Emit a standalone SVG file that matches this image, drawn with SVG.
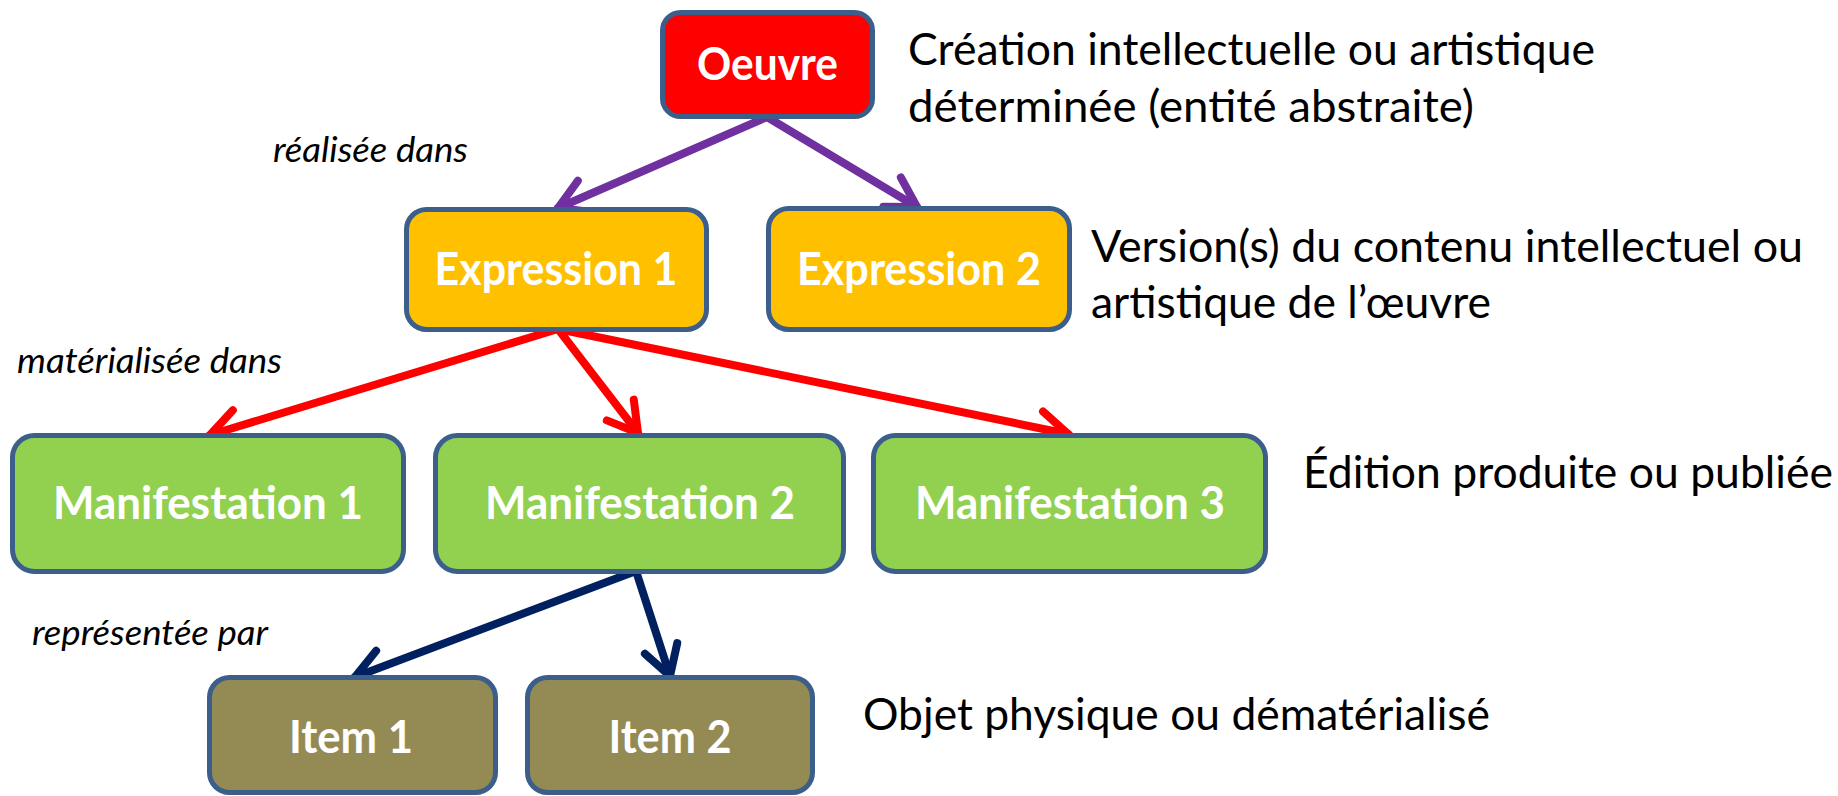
<svg xmlns="http://www.w3.org/2000/svg" width="1838" height="796" viewBox="0 0 1838 796">
<style>
.box{stroke:#3C5E8B;stroke-width:5}
.lbl{font-family:Lato,"Liberation Sans",sans-serif;font-weight:bold;font-size:45px;fill:#FFFFFF;text-anchor:middle}
.desc{font-family:Lato,"Liberation Sans",sans-serif;font-size:45px;fill:#000000}
.rel{font-family:Lato,"Liberation Sans",sans-serif;font-style:italic;font-size:35px;fill:#000000}
</style>
<defs>
<marker id="ap" markerUnits="userSpaceOnUse" markerWidth="60" markerHeight="60" viewBox="-40 -30 60 60" refX="0" refY="0" orient="auto" overflow="visible">
<path d="M-29,-17 L0,0 L-29,17" fill="none" stroke="#7030A0" stroke-width="8" stroke-linecap="round" stroke-linejoin="miter"/>
</marker>
<marker id="ar" markerUnits="userSpaceOnUse" markerWidth="60" markerHeight="60" viewBox="-40 -30 60 60" refX="0" refY="0" orient="auto" overflow="visible">
<path d="M-29,-17 L0,0 L-29,17" fill="none" stroke="#FF0000" stroke-width="8" stroke-linecap="round" stroke-linejoin="miter"/>
</marker>
<marker id="an" markerUnits="userSpaceOnUse" markerWidth="60" markerHeight="60" viewBox="-40 -30 60 60" refX="0" refY="0" orient="auto" overflow="visible">
<path d="M-29,-17 L0,0 L-29,17" fill="none" stroke="#002060" stroke-width="8" stroke-linecap="round" stroke-linejoin="miter"/>
</marker>
</defs>
<rect width="1838" height="796" fill="#FFFFFF"/>

<g id="connectors" fill="none" stroke-width="8" stroke-linecap="round">
<line x1="767" y1="117" x2="558" y2="208" stroke="#7030A0" stroke-width="8" marker-end="url(#ap)"/>
<line x1="767" y1="117" x2="917" y2="207" stroke="#7030A0" stroke-width="8" marker-end="url(#ap)"/>
<line x1="558" y1="329" x2="210" y2="435" stroke="#FF0000" stroke-width="8" marker-end="url(#ar)"/>
<line x1="558" y1="329" x2="638" y2="433" stroke="#FF0000" stroke-width="8" marker-end="url(#ar)"/>
<line x1="558" y1="329" x2="1068" y2="434" stroke="#FF0000" stroke-width="8" marker-end="url(#ar)"/>
<line x1="636" y1="571" x2="355" y2="677" stroke="#002060" stroke-width="8" marker-end="url(#an)"/>
<line x1="636" y1="571" x2="670" y2="676" stroke="#002060" stroke-width="8" marker-end="url(#an)"/>
</g>

<g id="oeuvre">
<rect class="box" x="662.5" y="12.5" width="210" height="104" rx="18" fill="#FF0000"/>
<text class="lbl" x="767.5" y="80" textLength="141" lengthAdjust="spacingAndGlyphs">Oeuvre</text>
</g>
<g id="expression1">
<rect class="box" x="406.5" y="209.5" width="300" height="120" rx="20" fill="#FFC000"/>
<text class="lbl" x="556" y="285" textLength="243" lengthAdjust="spacingAndGlyphs">Expression 1</text>
</g>
<g id="expression2">
<rect class="box" x="768.5" y="208.5" width="301" height="121" rx="20" fill="#FFC000"/>
<text class="lbl" x="919" y="285" textLength="244" lengthAdjust="spacingAndGlyphs">Expression 2</text>
</g>
<g id="manifestation1">
<rect class="box" x="12.5" y="435.5" width="391" height="136" rx="22" fill="#92D050"/>
<text class="lbl" x="208" y="519" textLength="310" lengthAdjust="spacingAndGlyphs">Manifestation 1</text>
</g>
<g id="manifestation2">
<rect class="box" x="435.5" y="435.5" width="408" height="136" rx="22" fill="#92D050"/>
<text class="lbl" x="640" y="519" textLength="310" lengthAdjust="spacingAndGlyphs">Manifestation 2</text>
</g>
<g id="manifestation3">
<rect class="box" x="873.5" y="435.5" width="392" height="136" rx="22" fill="#92D050"/>
<text class="lbl" x="1070" y="519" textLength="310" lengthAdjust="spacingAndGlyphs">Manifestation 3</text>
</g>
<g id="item1">
<rect class="box" x="209.5" y="677.5" width="286" height="115" rx="20" fill="#948A54"/>
<text class="lbl" x="351" y="753" textLength="124" lengthAdjust="spacingAndGlyphs">Item 1</text>
</g>
<g id="item2">
<rect class="box" x="527.5" y="677.5" width="285" height="115" rx="20" fill="#948A54"/>
<text class="lbl" x="670" y="753" textLength="123" lengthAdjust="spacingAndGlyphs">Item 2</text>
</g>

<g id="relation-labels">
<text class="rel" x="273" y="162" textLength="195" lengthAdjust="spacingAndGlyphs">réalisée dans</text>
<text class="rel" x="17" y="373" textLength="265" lengthAdjust="spacingAndGlyphs">matérialisée dans</text>
<text class="rel" x="32" y="645" textLength="236" lengthAdjust="spacingAndGlyphs">représentée par</text>
</g>

<g id="descriptions">
<text class="desc" x="908" y="65" textLength="687" lengthAdjust="spacingAndGlyphs">Création intellectuelle ou artistique</text>
<text class="desc" x="908" y="122" textLength="566" lengthAdjust="spacingAndGlyphs">déterminée (entité abstraite)</text>
<text class="desc" x="1091" y="262" textLength="712" lengthAdjust="spacingAndGlyphs">Version(s) du contenu intellectuel ou</text>
<text class="desc" x="1091" y="318" textLength="400" lengthAdjust="spacingAndGlyphs">artistique de l’œuvre</text>
<text class="desc" x="1303" y="488" textLength="530" lengthAdjust="spacingAndGlyphs">Édition produite ou publiée</text>
<text class="desc" x="863" y="730" textLength="627" lengthAdjust="spacingAndGlyphs">Objet physique ou dématérialisé</text>
</g>
</svg>
